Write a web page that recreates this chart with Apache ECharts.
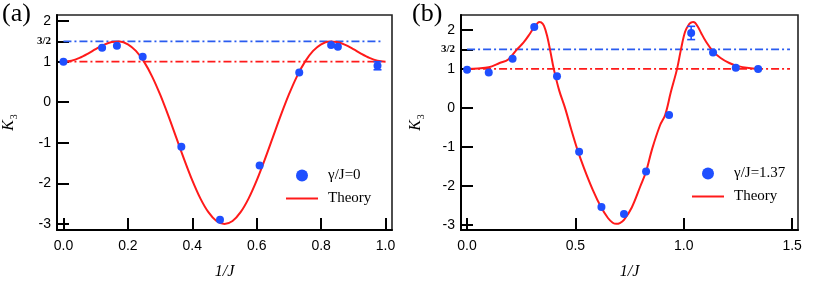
<!DOCTYPE html>
<html><head><meta charset="utf-8">
<script src="https://cdn.jsdelivr.net/npm/echarts@6/dist/echarts.min.js"></script>
<style>html,body{margin:0;padding:0;background:#fff}#c{width:832px;height:285px}</style>
</head><body><div id="c"></div>
<script>
// ---- tick labels ----
const xTicksA = [0, 0.2, 0.4, 0.6, 0.8, 1.0];
const xTicksB = [0, 0.5, 1.0, 1.5];
const yTicks = [-3, -2, -1, 0, 1, 1.5, 2];
const refLevels = [1.5, 1.0];           // 3/2 (blue) and 1 (red) dash-dot lines
const refSpanA = [0, 0.99];
const refSpanB = [0, 1.49];

// ---- panel (a): gamma/J = 0 ----
const measAx = [0, 0.12, 0.166, 0.246, 0.366, 0.486, 0.609, 0.732, 0.831, 0.852, 0.975];
const measAy = [1.0, 1.34, 1.39, 1.12, -1.10, -2.90, -1.56, 0.73, 1.41, 1.37, 0.90];
const errA = [0, 0, 0, 0, 0, 0, 0, 0, 0, 0, 0.10];
const theoryAx = [0,0.025,0.05,0.075,0.1,0.125,0.15,0.175,0.2,0.225,0.25,0.275,0.3,0.325,0.35,0.375,0.4,0.425,0.45,0.475,0.5,
  0.525,0.55,0.575,0.6,0.625,0.65,0.675,0.7,0.725,0.75,0.775,0.8,0.825,0.85,0.875,0.9,0.925,0.95,0.975,1.0];
const theoryAy = [1.0,1.024,1.093,1.194,1.309,1.414,1.485,1.496,1.427,1.264,1.0,0.638,0.191,-0.320,-0.867,-1.414,-1.927,-2.370,-2.711,-2.927,-3.0,
  -2.927,-2.711,-2.370,-1.927,-1.414,-0.867,-0.320,0.191,0.638,1.0,1.264,1.427,1.496,1.485,1.414,1.309,1.194,1.093,1.024,1.0];

// ---- panel (b): gamma/J = 1.37 ----
const measBx = [0, 0.10, 0.21, 0.31, 0.415, 0.517, 0.62, 0.724, 0.826, 0.932, 1.034, 1.135, 1.24, 1.343];
const measBy = [0.98, 0.91, 1.26, 2.07, 0.81, -1.12, -2.54, -2.72, -1.63, -0.18, 1.92, 1.42, 1.03, 1.0];
const errB = [0, 0, 0, 0, 0, 0, 0, 0, 0, 0, 0.17, 0, 0, 0];
const theoryBx = [0,0.05,0.1,0.15,0.19,0.23,0.26,0.29,0.31,0.322,0.332,0.342,0.355,0.37,0.385,0.40,0.425,0.452,0.48,0.508,0.54,0.58,0.618,0.65,0.672,0.688,
  0.705,0.724,0.76,0.8,0.826,0.854,0.89,0.914,0.94,0.969,0.987,1.006,1.025,1.035,1.043,1.052,1.065,1.08,1.1,1.135,1.17,1.21,1.25,1.3,1.343];
const theoryBy = [1.0,1.01,1.04,1.15,1.24,1.5,1.67,1.9,2.07,2.15,2.2,2.19,2.1,1.83,1.43,1.0,0.45,0.0,-0.54,-1.05,-1.55,-2.1,-2.54,-2.82,-2.94,-2.97,
  -2.95,-2.87,-2.55,-2.0,-1.63,-1.05,-0.45,-0.18,0.4,1.0,1.5,1.95,2.15,2.19,2.2,2.18,2.08,1.92,1.72,1.45,1.28,1.15,1.07,1.02,1.0];

const BLUE = '#1f4fff', RED = '#ff1a1a', REF_BLUE = '#2a5cf0';
const sans = 'Liberation Sans, Arial, sans-serif';
const serif = 'Liberation Serif, Times New Roman, serif';

const zip = (xs, ys) => xs.map((x, i) => [x, ys[i]]);

function xAxis(gi, min, max, ticks) {
  return {
    type: 'value', gridIndex: gi, min, max,
    name: '1/J', nameLocation: 'middle', nameGap: 34,
    nameTextStyle: { fontFamily: serif, fontStyle: 'italic', fontSize: 16, color: '#000' },
    axisLine: { onZero: false, lineStyle: { color: '#000', width: 2 } },
    axisTick: { inside: true, length: 12, customValues: ticks, lineStyle: { color: '#000', width: 2 } },
    axisLabel: { customValues: ticks, margin: 9, color: '#000', fontFamily: sans, fontSize: 14, formatter: v => v.toFixed(1) },
    splitLine: { show: false }
  };
}
function yAxis(gi, min, max, gap) {
  return {
    type: 'value', gridIndex: gi, min, max,
    name: '{k|K}{s|3}', nameLocation: 'middle', nameGap: gap, nameRotate: 90,
    nameTextStyle: { rich: {
      k: { fontFamily: serif, fontStyle: 'italic', fontSize: 16, color: '#000', lineHeight: 20, verticalAlign: 'middle' },
      s: { fontFamily: serif, fontSize: 10, color: '#000', lineHeight: 20, verticalAlign: 'bottom', padding: [0, 0, 0, 1] } } },
    axisLine: { onZero: false, lineStyle: { color: '#000', width: 2 } },
    axisTick: { inside: true, length: 12, customValues: yTicks, lineStyle: { color: '#000', width: 2 } },
    axisLabel: { customValues: yTicks, margin: 6, color: '#000', fontFamily: sans, fontSize: 14,
      formatter: v => v === 1.5 ? '{f|3/2}' : String(v),
      rich: { f: { fontFamily: serif, fontWeight: 'bold', fontSize: 11, color: '#000' } } },
    splitLine: { show: false }
  };
}
function refSeries(gi, span) {
  const cols = [REF_BLUE, RED];
  return refLevels.map((lv, i) => ({
    type: 'line', xAxisIndex: gi, yAxisIndex: gi, silent: true, symbol: 'none', z: 1,
    data: [[span[0], lv], [span[1], lv]],
    lineStyle: { color: cols[i], width: 1.7, type: [8, 3, 2, 3] }
  }));
}
function errSeries(gi, xs, ys, es) {
  const d = xs.map((x, i) => [x, ys[i] - es[i], ys[i] + es[i]]).filter((r, i) => es[i] > 0);
  return {
    type: 'custom', xAxisIndex: gi, yAxisIndex: gi, silent: true, z: 4, data: d,
    encode: { x: 0, y: [1, 2] },
    renderItem: (p, api) => {
      const x = api.value(0), lo = api.value(1), hi = api.value(2);
      const a = api.coord([x, hi]), b = api.coord([x, lo]);
      const w = 4, st = { stroke: BLUE, lineWidth: 1.6 };
      return { type: 'group', children: [
        { type: 'line', shape: { x1: a[0], y1: a[1], x2: b[0], y2: b[1] }, style: st },
        { type: 'line', shape: { x1: a[0] - w, y1: a[1], x2: a[0] + w, y2: a[1] }, style: st },
        { type: 'line', shape: { x1: b[0] - w, y1: b[1], x2: b[0] + w, y2: b[1] }, style: st }
      ] };
    }
  };
}
const LINE_ICON = 'path://M0,0L32,0L32,2L0,2Z';

const chart = echarts.init(document.getElementById('c'), null, { renderer: 'canvas' });
chart.setOption({
  animation: false,
  backgroundColor: '#fff',
  grid: [
    { left: 54, top: 15, width: 338, height: 217, show: true, borderColor: '#222', borderWidth: 1.6, backgroundColor: 'transparent' },
    { left: 461, top: 15, width: 337, height: 217, show: true, borderColor: '#222', borderWidth: 1.6, backgroundColor: 'transparent' }
  ],
  xAxis: [xAxis(0, -0.02, 1.02, xTicksA), xAxis(1, -0.028, 1.527, xTicksB)],
  yAxis: [yAxis(0, -3.15, 2.15, 38), yAxis(1, -3.127, 2.38, 35)],
  legend: [
    { left: 281, top: 163, orient: 'vertical', itemWidth: 32, itemHeight: 12, itemGap: 8,
      data: [{ name: 'γ/J=0', icon: 'circle' }, { name: 'Theory A', icon: LINE_ICON }],
      formatter: n => n.startsWith('Theory') ? 'Theory' : n,
      textStyle: { fontFamily: serif, fontSize: 15, color: '#000', padding: [0, 0, 0, 5] } },
    { left: 687, top: 161, orient: 'vertical', itemWidth: 32, itemHeight: 12, itemGap: 8,
      data: [{ name: 'γ/J=1.37', icon: 'circle' }, { name: 'Theory B', icon: LINE_ICON }],
      formatter: n => n.startsWith('Theory') ? 'Theory' : n,
      textStyle: { fontFamily: serif, fontSize: 15, color: '#000', padding: [0, 0, 0, 5] } }
  ],
  graphic: [
    { type: 'text', left: 2, top: 1, style: { text: '(a)', fontFamily: serif, fontSize: 26, fill: '#000' } },
    { type: 'text', left: 412, top: 1, style: { text: '(b)', fontFamily: serif, fontSize: 26, fill: '#000' } }
  ],
  series: [
    ...refSeries(0, refSpanA),
    ...refSeries(1, refSpanB),
    { name: 'Theory A', type: 'line', xAxisIndex: 0, yAxisIndex: 0, symbol: 'none', smooth: 0.3, z: 3,
      data: zip(theoryAx, theoryAy), lineStyle: { color: RED, width: 2 }, itemStyle: { color: RED } },
    { name: 'Theory B', type: 'line', xAxisIndex: 1, yAxisIndex: 1, symbol: 'none', smooth: 0.35, z: 3,
      data: zip(theoryBx, theoryBy), lineStyle: { color: RED, width: 2 }, itemStyle: { color: RED } },
    errSeries(0, measAx, measAy, errA),
    errSeries(1, measBx, measBy, errB),
    { name: 'γ/J=0', type: 'scatter', xAxisIndex: 0, yAxisIndex: 0, symbolSize: 8, z: 5,
      data: zip(measAx, measAy), itemStyle: { color: BLUE, opacity: 1 } },
    { name: 'γ/J=1.37', type: 'scatter', xAxisIndex: 1, yAxisIndex: 1, symbolSize: 8, z: 5,
      data: zip(measBx, measBy), itemStyle: { color: BLUE, opacity: 1 } }
  ]
});
</script></body></html>
